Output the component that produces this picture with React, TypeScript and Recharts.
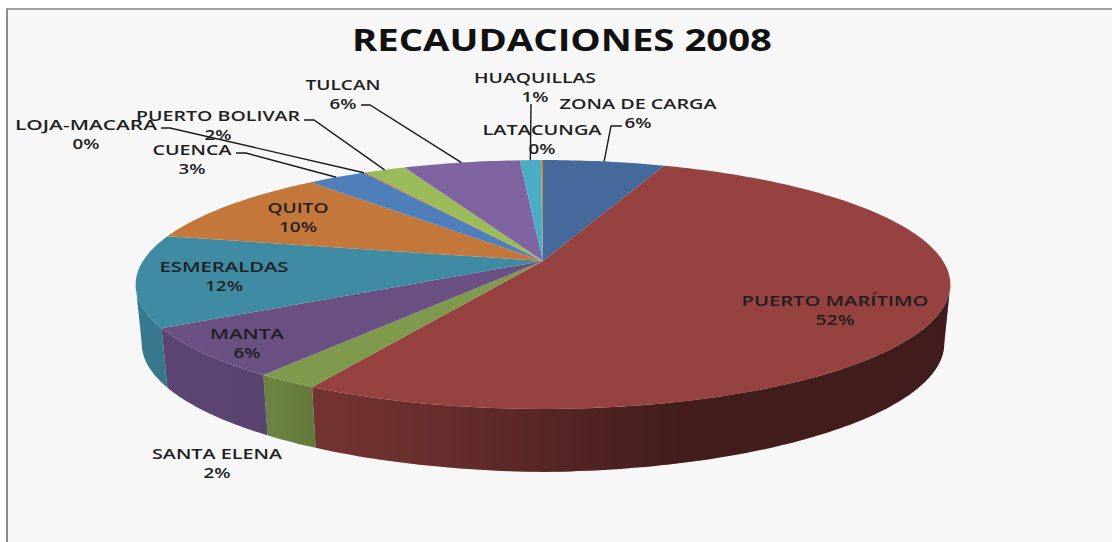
import { PieChart, Pie } from "recharts";

const categories = [
  "ZONA DE CARGA", "PUERTO MARÍTIMO", "SANTA ELENA", "MANTA", "ESMERALDAS", "QUITO",
  "CUENCA", "LOJA-MACARA", "PUERTO BOLIVAR", "TULCAN", "HUAQUILLAS", "LATACUNGA",
];
const shares = [5.8, 52.2, 2.1, 6.45, 11.9, 10.0, 2.8, 0.1, 2.0, 5.55, 1.0, 0.1];
const colors = [
  "#44699a", "#954240", "#7f9a4c", "#6a5083", "#3f8ba3", "#c4773a",
  "#4e7fba", "#b5504d", "#9bbb59", "#8064a2", "#4bacc6", "#c08a50",
];

const data = categories.map((name, i) => ({ name, value: shares[i], fill: colors[i] }));

// label placement: centre x, centre y of name line, stretched text width, leader elbow points
const labelSpots: Record<string, { x: number; y: number; w: number; pw: number; leader?: number[][] }> = {
  "ZONA DE CARGA": { x: 638, y: 103, w: 157, pw: 27, leader: [[622, 126], [611, 126]] },
  "PUERTO MARÍTIMO": { x: 835, y: 300, w: 187, pw: 39 },
  "SANTA ELENA": { x: 217, y: 453, w: 130, pw: 27 },
  MANTA: { x: 247, y: 333, w: 74, pw: 27 },
  ESMERALDAS: { x: 224, y: 266, w: 129, pw: 38 },
  QUITO: { x: 298, y: 207, w: 61, pw: 38 },
  CUENCA: { x: 192, y: 149, w: 79, pw: 27 },
  "LOJA-MACARA": { x: 86, y: 124, w: 142, pw: 27, leader: [[161, 128], [170, 128]] },
  "PUERTO BOLIVAR": { x: 218, y: 115, w: 164, pw: 27, leader: [[304, 120], [314, 120]] },
  TULCAN: { x: 343, y: 84, w: 75, pw: 27, leader: [[361, 105], [370, 105]] },
  HUAQUILLAS: { x: 535, y: 77, w: 122, pw: 27, leader: [[531, 104]] },
  LATACUNGA: { x: 542, y: 129, w: 119, pw: 27 },
};
const cuencaLeader = [[236, 153], [246, 153]];

const RX = 4.0; // horizontal stretch of the tilted disc per unit of radius
const RY = 1.2;
const TILT = 0.1888;
const DEPTH = 63;
const FONT = "'Open Sans', sans-serif";

function project(cx: number, cy: number, r: number, deg: number) {
  const u = Math.cos((deg * Math.PI) / 180);
  const v = Math.sin((deg * Math.PI) / 180);
  const w = 1 + TILT * v;
  return { x: cx + (RX * r * u) / w, y: cy - (RY * r * v) / w };
}

function arcPoints(cx: number, cy: number, r: number, from: number, to: number) {
  const pts = [];
  const steps = Math.max(2, Math.ceil(Math.abs(to - from)));
  for (let i = 0; i <= steps; i++) pts.push(project(cx, cy, r, from + ((to - from) * i) / steps));
  return pts;
}

function TopSlice(props: any) {
  const { cx, cy, outerRadius, startAngle, endAngle, fill } = props;
  const pts = arcPoints(cx, cy, outerRadius, startAngle, endAngle);
  const d = `M${cx},${cy} ` + pts.map((p) => `L${p.x},${p.y}`).join(" ") + " Z";
  return <path d={d} fill={fill} stroke="none" />;
}

function SideSlice(props: any) {
  const { cx, cy, outerRadius, startAngle, endAngle, fill } = props;
  // only the near part of the rim shows
  const limitLo = -360 + 180 + 11;
  const limitHi = -11;
  const a = Math.max(Math.min(startAngle, endAngle), limitLo);
  const b = Math.min(Math.max(startAngle, endAngle), limitHi);
  if (a >= b) return <g />;
  const upper = arcPoints(cx, cy, outerRadius, a, b);
  const lower = [...upper].reverse().map((p) => ({ x: cx + (p.x - cx) * 0.985, y: p.y + DEPTH * (1 - 0.06 * (Math.abs(p.x - cx) / 400)) }));
  const d = "M" + [...upper, ...lower].map((p) => `${p.x},${p.y}`).join(" L") + " Z";
  return (
    <g>
      <path d={d} fill={fill} />
      <path d={d} fill="url(#sideShade)" />
    </g>
  );
}

function SliceLabel(props: any) {
  const { cx, cy, outerRadius, midAngle, percent, name } = props;
  const spot = labelSpots[name];
  const elbow = name === "CUENCA" ? cuencaLeader : spot.leader;
  const end = project(cx, cy, outerRadius, midAngle);
  const lineProps = {
    textAnchor: "middle" as const,
    dominantBaseline: "central" as const,
    fontFamily: FONT,
    fontWeight: 600,
    fontSize: 15,
    fill: "#1f1f1f",
    lengthAdjust: "spacingAndGlyphs" as const,
  };
  return (
    <g>
      {elbow && (
        <polyline
          points={[...elbow, [end.x, end.y]].map((p) => p.join(",")).join(" ")}
          fill="none"
          stroke="#1a1a1a"
          strokeWidth={1.4}
        />
      )}
      <text x={spot.x} y={spot.y} textLength={spot.w} {...lineProps}>{name}</text>
      <text x={spot.x} y={spot.y + 18.5} textLength={spot.pw} {...lineProps}>{`${Math.round(percent * 100)}%`}</text>
    </g>
  );
}

export default function App() {
  return (
    <div style={{ position: "absolute", left: 0, top: 0, width: 1112, height: 542, background: "#fff", overflow: "hidden" }}>
      <div style={{ position: "absolute", left: 6, top: 8, width: 1106, height: 534, background: "#f7f7f7", borderLeft: "2px solid #8c8c8c", borderTop: "2px solid #a0a0a0", boxSizing: "border-box" }} />
      <div style={{ position: "absolute", left: 0, top: 0 }}>
        <PieChart width={1112} height={542} margin={{ top: 0, right: 0, bottom: 0, left: 0 }}>
          <defs>
            <linearGradient id="sideShade" gradientUnits="userSpaceOnUse" x1={135} y1={0} x2={950} y2={0}>
              <stop offset="0" stopColor="#000" stopOpacity={0.13} />
              <stop offset="0.18" stopColor="#000" stopOpacity={0.16} />
              <stop offset="0.23" stopColor="#000" stopOpacity={0.23} />
              <stop offset="0.36" stopColor="#000" stopOpacity={0.3} />
              <stop offset="0.67" stopColor="#000" stopOpacity={0.56} />
              <stop offset="1" stopColor="#000" stopOpacity={0.57} />
            </linearGradient>
          </defs>
          <text x={562} y={39} textAnchor="middle" dominantBaseline="central" textLength={420} lengthAdjust="spacingAndGlyphs" fontFamily={FONT} fontWeight={700} fontSize={30} fill="#111">
            RECAUDACIONES 2008
          </text>
          <Pie
            data={data}
            dataKey="value"
            nameKey="name"
            cx={543}
            cy={261}
            outerRadius={100}
            startAngle={90}
            endAngle={-270}
            stroke="none"
            legendType="none"
            label={false}
            labelLine={false}
            shape={SideSlice}
            isAnimationActive={false}
          />
          <Pie
            data={data}
            dataKey="value"
            nameKey="name"
            cx={543}
            cy={261}
            outerRadius={100}
            startAngle={90}
            endAngle={-270}
            stroke="none"
            legendType="none"
            label={SliceLabel}
            labelLine={false}
            shape={TopSlice}
            isAnimationActive={false}
          />
        </PieChart>
      </div>
    </div>
  );
}
